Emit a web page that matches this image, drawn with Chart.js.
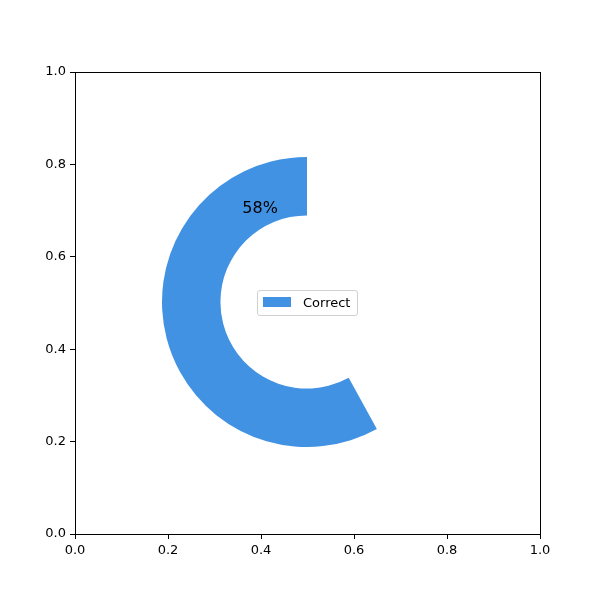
<!DOCTYPE html>
<html>
<head>
<meta charset="utf-8">
<script src="https://cdn.jsdelivr.net/npm/chart.js@4"></script>
<style>
  body { margin: 0; background: #fff; }
  #wrap { position: relative; width: 600px; height: 600px; }
  #axes { position: absolute; left: 0; top: 0; }
  #ring { position: absolute; left: 162px; top: 157px; }
  #legend {
    position: absolute; left: 257px; top: 290px; width: 101px; height: 26px;
    border: 1px solid #d0d0d0; border-radius: 3px; background: rgba(255,255,255,0.8);
    font: 13px 'DejaVu Sans', sans-serif; color: #000; box-sizing: border-box;
  }
  #legend .box { position: absolute; left: 5px; top: 6px; width: 28px; height: 10px; }
  #legend .txt { position: absolute; left: 45px; top: 4px; }
</style>
</head>
<body>
<div id="wrap">
  <canvas id="ring" width="290" height="290"></canvas>
  <canvas id="axes" width="600" height="600"></canvas>
  <div id="legend"><span class="box"></span><span class="txt"></span></div>
</div>
<script>
const labels = ['Correct', 'Incorrect'];
const shares = [58, 42];
const colors = ['#4292e3', 'rgba(255,255,255,0)'];
const tickValues = [0, 0.2, 0.4, 0.6, 0.8, 1.0];
const pctLabel = '58%';

const font = { family: 'DejaVu Sans', size: 13 };

// frame round the plot area plus the percentage text
const framePlugin = {
  id: 'frame',
  afterDraw(chart) {
    const { ctx, chartArea: a, scales } = chart;
    ctx.save();
    ctx.strokeStyle = '#000';
    ctx.lineWidth = 1;
    ctx.strokeRect(a.left + 0.5, a.top + 0.5, a.right - a.left, a.bottom - a.top);
    ctx.fillStyle = '#000';
    ctx.font = '16px "DejaVu Sans"';
    ctx.textAlign = 'center';
    ctx.textBaseline = 'middle';
    ctx.fillText(pctLabel, scales.x.getPixelForValue(0.398), scales.y.getPixelForValue(0.703));
    ctx.restore();
  }
};

const axisOpts = (fitKey, fitVal) => ({
  type: 'linear',
  min: 0,
  max: 1,
  afterBuildTicks: (s) => { s.ticks = tickValues.map(v => ({ value: v })); },
  afterFit: (s) => { s[fitKey] = fitVal; },
  ticks: { font, color: '#000', padding: 4, callback: (v) => v.toFixed(1) },
  grid: { drawOnChartArea: false, drawTicks: true, tickLength: 5, color: '#000' },
  border: { display: true, color: '#000' },
});

new Chart(document.getElementById('axes'), {
  type: 'scatter',
  data: { datasets: [{ data: [] }] },
  options: {
    responsive: false,
    animation: false,
    layout: { padding: { left: 0, top: 72, right: 60, bottom: 0 } },
    plugins: { legend: { display: false }, tooltip: { enabled: false } },
    scales: {
      x: axisOpts('height', 66),
      y: axisOpts('width', 75),
    },
  },
  plugins: [framePlugin],
});

new Chart(document.getElementById('ring'), {
  type: 'doughnut',
  data: {
    labels: labels,
    datasets: [{
      data: shares,
      backgroundColor: colors,
      borderWidth: 0,
      hoverOffset: 0,
    }],
  },
  options: {
    responsive: false,
    animation: false,
    cutout: '59.7%',
    rotation: 360 * shares[1] / 100,
    layout: { padding: 0 },
    plugins: { legend: { display: false }, tooltip: { enabled: false } },
  },
});

document.querySelector('#legend .box').style.background = colors[0];
document.querySelector('#legend .txt').textContent = labels[0];
</script>
</body>
</html>
